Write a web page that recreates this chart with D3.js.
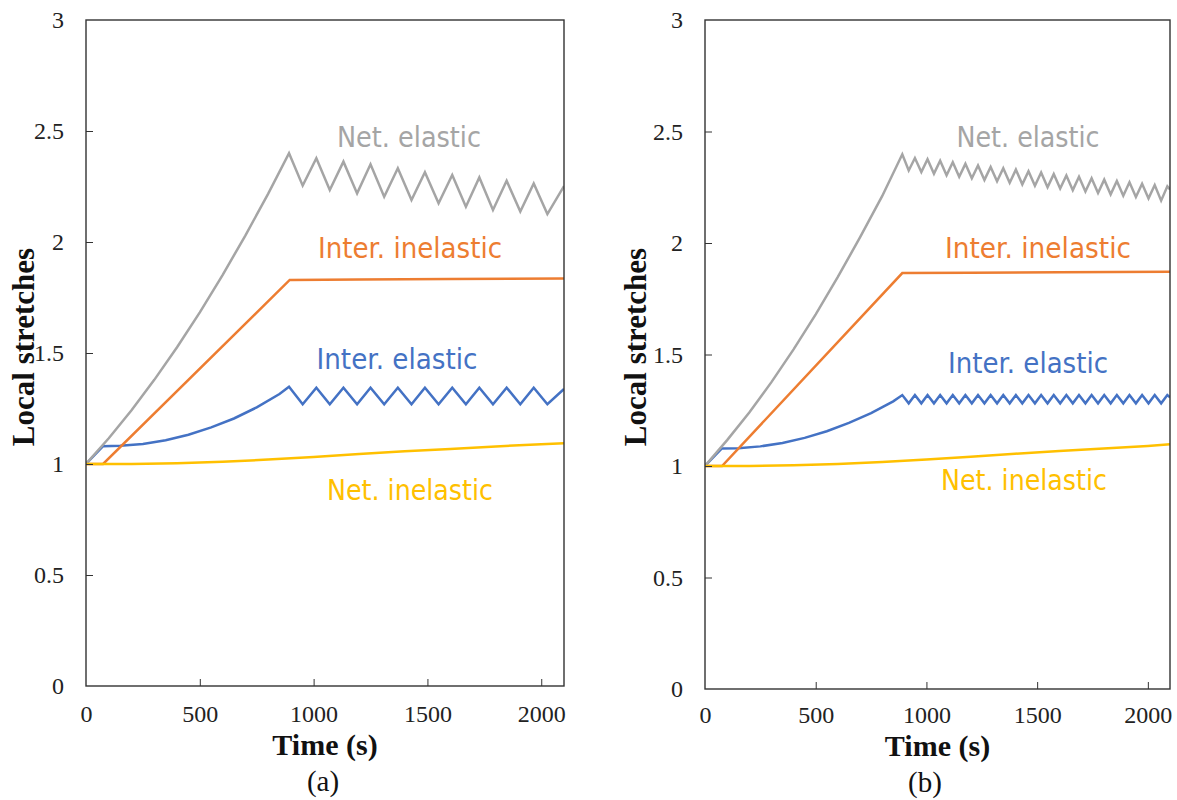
<!DOCTYPE html>
<html>
<head>
<meta charset="utf-8">
<script src="https://cdn.jsdelivr.net/npm/d3@7"></script>
<style>
  html, body { margin: 0; padding: 0; background: #fff; }
  svg { display: block; }
  .tick text { font-family: 'Liberation Serif', 'Times New Roman', serif !important; font-size: 24px !important; fill: #222; }
</style>
</head>
<body>
<svg id="chart" width="1177" height="800"></svg>
<script>
// ---------------- DATA ----------------
const xTicks = [0, 500, 1000, 1500, 2000];
const yTicks = [0, 0.5, 1, 1.5, 2, 2.5, 3];
const seriesNames = ["Net. elastic", "Inter. inelastic", "Inter. elastic", "Net. inelastic"];
const panelLabels = ["(a)", "(b)"];
const xTitle = "Time (s)";
const yTitle = "Local stretches";

// Panel (a)  [time (s), stretch]
const netElasticA = [[0,1.0],[100,1.116],[200,1.242],[300,1.379],[400,1.526],[500,1.683],[600,1.851],[700,2.029],[800,2.217],[892,2.400],
  [952,2.254],[1012,2.377],[1071,2.234],[1131,2.362],[1191,2.219],[1250,2.350],[1310,2.204],[1370,2.332],[1430,2.189],[1489,2.314],
  [1549,2.174],[1609,2.302],[1669,2.159],[1728,2.291],[1788,2.144],[1848,2.276],[1908,2.137],[1967,2.264],[2027,2.126],[2100,2.252]];
const interInelasticA = [[0,1.0],[75,1.0],[895,1.829],[1200,1.831],[1600,1.833],[2100,1.836]];
const interElasticA = [[0,1.0],[75,1.08],[150,1.082],[250,1.09],[350,1.107],[450,1.132],[550,1.165],[650,1.205],[750,1.255],[850,1.315],[892,1.348],
  [952,1.269],[1012,1.344],[1071,1.269],[1131,1.344],[1191,1.269],[1250,1.344],[1310,1.269],[1370,1.344],[1430,1.269],[1489,1.344],
  [1549,1.269],[1609,1.344],[1669,1.269],[1728,1.344],[1788,1.269],[1848,1.344],[1908,1.269],[1967,1.344],[2027,1.269],[2100,1.338]];
const netInelasticA = [[0,1.0],[200,1.0],[400,1.003],[600,1.01],[800,1.02],[1000,1.032],[1200,1.045],[1400,1.057],[1600,1.068],[1800,1.079],[2000,1.089],[2100,1.094]];

// Panel (b)
const netElasticB = [[0,1.0],[100,1.116],[200,1.24],[300,1.376],[400,1.523],[500,1.68],[600,1.848],[700,2.025],[800,2.21],[891,2.398],
  [920,2.325],[948,2.381],[977,2.318],[1005,2.376],[1034,2.311],[1062,2.369],[1091,2.304],[1119,2.362],[1148,2.297],[1176,2.355],
  [1205,2.290],[1233,2.348],[1262,2.283],[1290,2.341],[1319,2.277],[1347,2.335],[1376,2.270],[1404,2.329],[1433,2.263],[1461,2.322],
  [1490,2.257],[1518,2.316],[1547,2.250],[1575,2.309],[1604,2.244],[1632,2.303],[1661,2.237],[1689,2.297],[1718,2.231],[1746,2.290],
  [1775,2.224],[1803,2.284],[1832,2.218],[1860,2.278],[1889,2.212],[1917,2.272],[1946,2.206],[1974,2.266],[2003,2.200],[2031,2.260],
  [2060,2.190],[2088,2.254],[2100,2.240]];
const interInelasticB = [[0,1.0],[77,1.0],[891,1.865],[1200,1.867],[1600,1.869],[2100,1.871]];
const interElasticB = [[0,1.0],[75,1.078],[150,1.08],[250,1.088],[350,1.103],[450,1.126],[550,1.156],[650,1.193],[750,1.237],[850,1.29],[891,1.318],
  [920,1.281],[948,1.318],[977,1.281],[1005,1.318],[1034,1.281],[1062,1.318],[1091,1.281],[1119,1.318],[1148,1.281],[1176,1.318],
  [1205,1.281],[1233,1.318],[1262,1.281],[1290,1.318],[1319,1.281],[1347,1.318],[1376,1.281],[1404,1.318],[1433,1.281],[1461,1.318],
  [1490,1.281],[1518,1.318],[1547,1.281],[1575,1.318],[1604,1.281],[1632,1.318],[1661,1.281],[1689,1.318],[1718,1.281],[1746,1.318],
  [1775,1.281],[1803,1.318],[1832,1.281],[1860,1.318],[1889,1.281],[1917,1.318],[1946,1.281],[1974,1.318],[2003,1.281],[2031,1.318],
  [2060,1.281],[2088,1.318],[2100,1.308]];
const netInelasticB = [[0,1.0],[200,1.0],[400,1.003],[600,1.009],[800,1.018],[1000,1.029],[1200,1.042],[1400,1.055],[1600,1.067],[1800,1.078],[2000,1.09],[2100,1.097]];

// ---------------- STYLE / LAYOUT ----------------
const colors = { "Net. elastic": "#A5A5A5", "Inter. inelastic": "#ED7D31", "Inter. elastic": "#4472C4", "Net. inelastic": "#FFC000" };
const drawOrder = ["Inter. elastic", "Inter. inelastic", "Net. elastic", "Net. inelastic"];

const panels = [
  { x0: 86, x1: 564, yTop: 20, yBot: 686, tickBase: 722, titleBase: 755, labelX: 323, labelBase: 791, yTitleX: 34,
    data: { "Net. elastic": netElasticA, "Inter. inelastic": interInelasticA, "Inter. elastic": interElasticA, "Net. inelastic": netInelasticA },
    text: { "Net. elastic": [409, 147, 144], "Inter. inelastic": [410, 258, 184], "Inter. elastic": [397, 369, 161], "Net. inelastic": [410, 500, 166] } },
  { x0: 705, x1: 1170, yTop: 20, yBot: 689, tickBase: 723, titleBase: 756, labelX: 925, labelBase: 792, yTitleX: 646,
    data: { "Net. elastic": netElasticB, "Inter. inelastic": interInelasticB, "Inter. elastic": interElasticB, "Net. inelastic": netInelasticB },
    text: { "Net. elastic": [1028, 147, 143], "Inter. inelastic": [1038, 258, 186], "Inter. elastic": [1028, 373, 160], "Net. inelastic": [1024, 490, 166] } }
];

const svg = d3.select("#chart");
const serif = "'Liberation Serif', 'Times New Roman', serif";

panels.forEach((p, i) => {
  const x = d3.scaleLinear().domain([0, 2100]).range([p.x0, p.x1]);
  const y = d3.scaleLinear().domain([0, 3]).range([p.yBot, p.yTop]);
  const g = svg.append("g");

  // series
  const line = d3.line().x(d => x(d[0])).y(d => y(d[1]));
  const clipId = "clip" + i;
  svg.append("clipPath").attr("id", clipId).append("rect")
    .attr("x", p.x0).attr("y", p.yTop).attr("width", p.x1 - p.x0).attr("height", p.yBot - p.yTop);
  drawOrder.forEach(name => {
    g.append("path").datum(p.data[name])
      .attr("clip-path", `url(#${clipId})`)
      .attr("fill", "none").attr("stroke", colors[name]).attr("stroke-width", 2.5)
      .attr("stroke-linejoin", "miter").attr("d", line);
  });

  // y axis
  const ya = g.append("g").attr("transform", `translate(${p.x0},0)`)
    .call(d3.axisLeft(y).tickValues(yTicks).tickSize(-7).tickPadding(22).tickFormat(d => String(d)));
  ya.attr("font-family", serif).attr("font-size", 24);
  ya.select(".domain").remove();
  ya.selectAll(".tick line").attr("stroke", "#333").attr("stroke-width", 1)
    .filter(d => d === 0 || d === 3).remove();
  ya.selectAll(".tick text").attr("fill", "#222");

  // x axis
  const xa = g.append("g").attr("transform", `translate(0,${p.yBot})`)
    .call(d3.axisBottom(x).tickValues(xTicks).tickSize(-7).tickPadding(0).tickFormat(d => String(d)));
  xa.attr("font-family", serif).attr("font-size", 24);
  xa.select(".domain").remove();
  xa.selectAll(".tick line").attr("stroke", "#333").attr("stroke-width", 1)
    .filter(d => d === 0).remove();
  xa.selectAll(".tick text").attr("fill", "#222")
    .attr("dy", null).attr("y", p.tickBase - p.yBot);

  // frame
  g.append("rect").attr("x", p.x0).attr("y", p.yTop).attr("width", p.x1 - p.x0).attr("height", p.yBot - p.yTop)
    .attr("fill", "none").attr("stroke", "#333").attr("stroke-width", 1.4);

  // series labels
  seriesNames.forEach(name => {
    const t = p.text[name];
    g.append("text").attr("x", t[0]).attr("y", t[1]).attr("text-anchor", "middle")
      .attr("font-family", "'DejaVu Sans', Verdana, sans-serif").attr("font-size", 28)
      .attr("fill", colors[name])
      .attr("textLength", t[2]).attr("lengthAdjust", "spacingAndGlyphs")
      .text(name);
  });

  // titles
  g.append("text").attr("x", (p.x0 + p.x1) / 2).attr("y", p.titleBase).attr("text-anchor", "middle")
    .attr("font-family", serif).attr("font-weight", "bold").attr("font-size", 30).attr("fill", "#111")
    .text(xTitle);
  g.append("text").attr("transform", `translate(${p.yTitleX},347) rotate(-90)`).attr("text-anchor", "middle")
    .attr("font-family", serif).attr("font-weight", "bold").attr("font-size", 31).attr("fill", "#111")
    .text(yTitle);
  g.append("text").attr("x", p.labelX).attr("y", p.labelBase).attr("text-anchor", "middle")
    .attr("font-family", serif).attr("font-size", 29).attr("fill", "#111")
    .text(panelLabels[i]);
});
</script>
</body>
</html>
